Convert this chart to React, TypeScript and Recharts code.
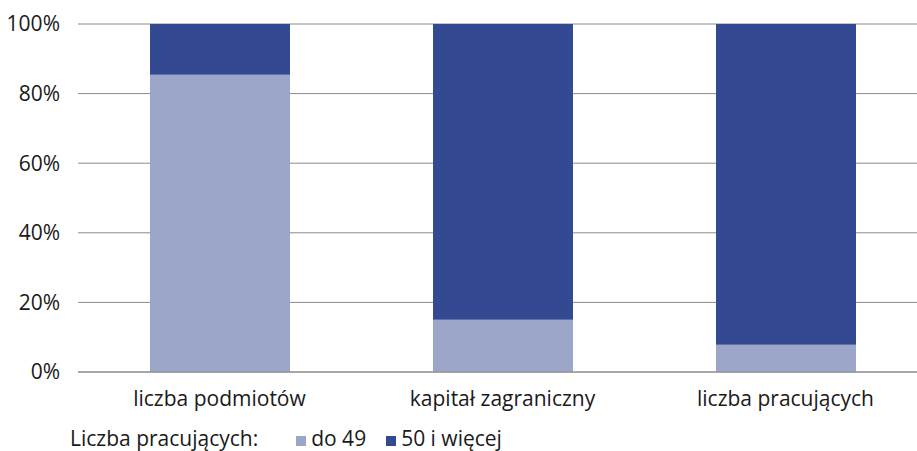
import React from 'react';
import { BarChart, Bar, XAxis, YAxis, CartesianGrid, Legend } from 'recharts';

const categories = ['liczba podmiotów', 'kapitał zagraniczny', 'liczba pracujących'];
const smallShare = [85.4, 15.0, 7.8];
const largeShare = [14.6, 85.0, 92.2];
const yTicks = [0, 20, 40, 60, 80, 100];
const seriesNames = ['do 49', '50 i więcej'];
const legendTitle = 'Liczba pracujących:';

const LIGHT = '#9ba6c9';
const DARK = '#334a92';
const FONT = '"Open Sans", sans-serif';
const TEXT = '#1a1a1a';

const data = categories.map((c, i) => ({ name: c, small: smallShare[i], large: largeShare[i] }));

const LegendContent = () => (
  <div style={{ display: 'flex', alignItems: 'center', height: 21, lineHeight: 1, fontFamily: FONT, fontSize: 21, color: TEXT, whiteSpace: 'nowrap' }}>
    <span style={{ marginRight: 38 }}>{legendTitle}</span>
    <span style={{ width: 10, height: 10, background: LIGHT, display: 'inline-block', marginRight: 5, marginTop: 4 }} />
    <span style={{ marginRight: 20 }}>{seriesNames[0]}</span>
    <span style={{ width: 10, height: 10, background: DARK, display: 'inline-block', marginRight: 5, marginTop: 4 }} />
    <span>{seriesNames[1]}</span>
  </div>
);

export default function App() {
  return (
    <div style={{ position: 'absolute', left: 0, top: 0, width: 917, height: 451, overflow: 'hidden', background: '#fff' }}>
      <BarChart width={940} height={451} data={data} margin={{ top: 24, right: 13, left: 0, bottom: 0 }}>
        <CartesianGrid vertical={false} stroke="#8a8a8a" strokeWidth={1} />
        <XAxis
          dataKey="name"
          axisLine={{ stroke: '#8a8a8a' }}
          tickLine={false}
          height={58}
          tickMargin={13}
          tick={{ fill: TEXT, fontSize: 21, fontFamily: FONT }}
        />
        <YAxis
          width={78}
          domain={[0, 100]}
          ticks={yTicks}
          tickFormatter={(v: number) => `${v}%`}
          axisLine={false}
          tickLine={false}
          tickMargin={12}
          tick={{ fill: TEXT, fontSize: 21, fontFamily: FONT }}
        />
        <Legend
          verticalAlign="bottom"
          content={<LegendContent />}
          wrapperStyle={{ top: 428, left: 70, bottom: 'auto', width: 'auto' }}
        />
        <Bar dataKey="small" stackId="a" fill={LIGHT} barSize={140} isAnimationActive={false} name={seriesNames[0]} />
        <Bar dataKey="large" stackId="a" fill={DARK} barSize={140} isAnimationActive={false} name={seriesNames[1]} />
      </BarChart>
    </div>
  );
}
